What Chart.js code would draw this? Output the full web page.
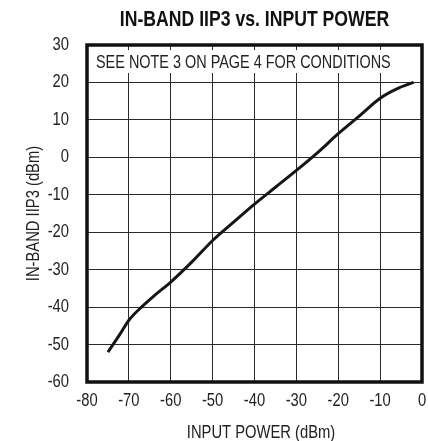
<!DOCTYPE html>
<html>
<head>
    <title>In-Band IIP3 vs. Input Power</title>
    <script src="https://cdn.jsdelivr.net/npm/chart.js@4.4.1/dist/chart.umd.min.js"></script>
    <style>
        html, body {
            margin: 0;
            padding: 0;
            background: #fff;
        }
        #wrap {
            position: relative;
            width: 428px;
            height: 441px;
        }
    </style>
</head>
<body>
    <div id="wrap"><canvas id="chart" width="428" height="441"></canvas></div>

    <script>
        // data
        const inputPower = [-75, -72, -70, -67, -64, -60, -55, -50, -45, -40, -35, -30, -25, -20, -15, -10, -6, -2];
        const iip3 = [-52, -47, -43.5, -40, -37, -33.3, -28, -22.2, -17.3, -12.5, -8, -3.5, 1.2, 6.3, 11, 15.8, 18.3, 20];

        const xTicks = [-80, -70, -60, -50, -40, -30, -20, -10, 0];
        const yTicks = [30, 20, 10, 0, -10, -20, -30, -40, -50, -60];

        const chartTitle = 'IN-BAND IIP3 vs. INPUT POWER';
        const noteText = 'SEE NOTE 3 ON PAGE 4 FOR CONDITIONS';
        const xTitle = 'INPUT POWER (dBm)';
        const yTitle = 'IN-BAND IIP3 (dBm)';

        const FONT = '"Liberation Sans", Arial, sans-serif';
        const NARROW = 0.82; // no Arial Narrow here, so squeeze the regular face

        function narrowText(ctx, text, x, y, font, align, rot) {
            ctx.save();
            ctx.translate(x, y);
            if (rot) ctx.rotate(rot);
            ctx.scale(NARROW, 1);
            ctx.font = font;
            ctx.textAlign = align;
            ctx.textBaseline = 'middle';
            ctx.fillText(text, 0, 0);
            ctx.restore();
        }

        // all the text, the note box and the heavy frame
        const decorations = {
            id: 'decorations',
            afterDatasetsDraw(chart) {
                const ctx = chart.ctx;
                const a = chart.chartArea;
                const xs = chart.scales.x;
                const ys = chart.scales.y;
                ctx.save();

                ctx.fillStyle = '#fff';
                ctx.fillRect(a.left + 5, a.top + 5, 306, 23);
                ctx.fillStyle = '#222';
                narrowText(ctx, noteText, a.left + 9, a.top + 18, '17.6px ' + FONT, 'left');

                ctx.strokeStyle = '#111';
                ctx.lineWidth = 3.5;
                ctx.strokeRect(a.left, a.top, a.right - a.left, a.bottom - a.top);

                ctx.fillStyle = '#222';
                xTicks.forEach(v => {
                    narrowText(ctx, String(v), xs.getPixelForValue(v), a.bottom + 19, '18px ' + FONT, 'center');
                });
                yTicks.forEach(v => {
                    narrowText(ctx, String(v), a.left - 18, ys.getPixelForValue(v), '18px ' + FONT, 'right');
                });
                narrowText(ctx, xTitle, 261, 433, '18px ' + FONT, 'center');
                narrowText(ctx, yTitle, 34, (a.top + a.bottom) / 2, '18px ' + FONT, 'center', -Math.PI / 2);

                ctx.fillStyle = '#111';
                narrowText(ctx, chartTitle, (a.left + a.right) / 2, 20, 'bold 21.5px ' + FONT, 'center');
                ctx.restore();
            }
        };

        new Chart(document.getElementById('chart'), {
            type: 'line',
            data: {
                datasets: [{
                    data: inputPower.map((x, i) => ({ x: x, y: iip3[i] })),
                    borderColor: '#161616',
                    borderWidth: 3,
                    pointRadius: 0,
                    cubicInterpolationMode: 'monotone',
                    fill: false
                }]
            },
            options: {
                responsive: false,
                animation: false,
                events: [],
                layout: {
                    padding: { top: 45, right: 6, bottom: 0, left: 0 }
                },
                plugins: {
                    legend: { display: false },
                    tooltip: { enabled: false }
                },
                scales: {
                    x: {
                        type: 'linear',
                        min: -80,
                        max: 0,
                        afterBuildTicks(scale) {
                            scale.ticks = xTicks.map(v => ({ value: v }));
                        },
                        afterFit(scale) {
                            scale.height = 59;
                        },
                        grid: { color: '#2a2a2a', lineWidth: 1, drawTicks: false },
                        border: { display: false },
                        ticks: { display: false }
                    },
                    y: {
                        type: 'linear',
                        min: -60,
                        max: 30,
                        afterBuildTicks(scale) {
                            scale.ticks = yTicks.map(v => ({ value: v }));
                        },
                        afterFit(scale) {
                            scale.width = 87;
                        },
                        grid: { color: '#2a2a2a', lineWidth: 1, drawTicks: false },
                        border: { display: false },
                        ticks: { display: false }
                    }
                }
            },
            plugins: [decorations]
        });
    </script>
</body>
</html>
